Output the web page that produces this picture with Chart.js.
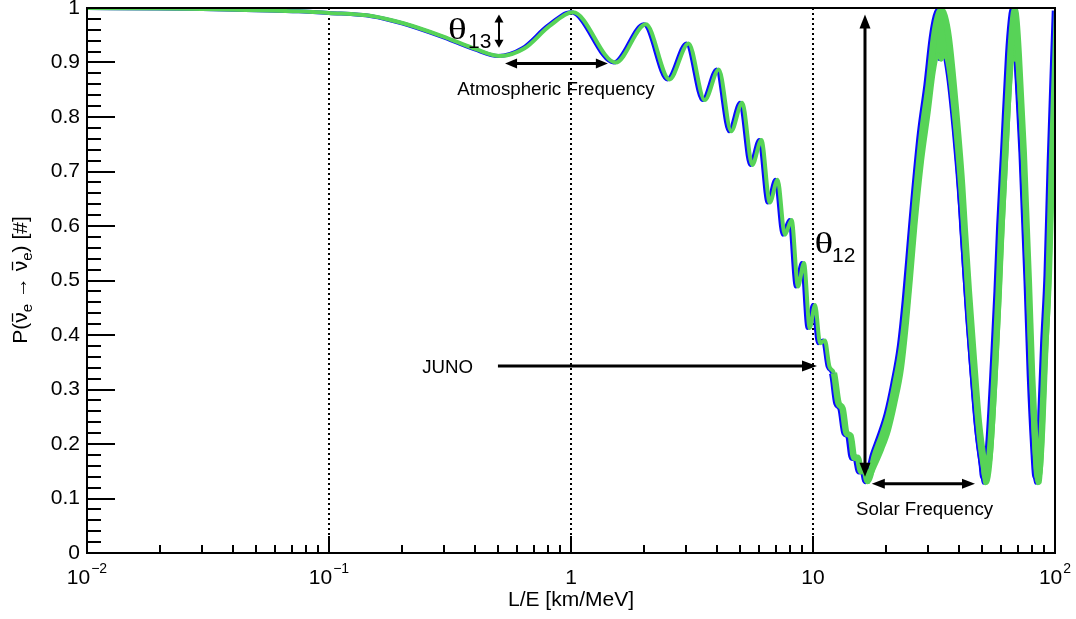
<!DOCTYPE html>
<html>
<head>
<meta charset="utf-8">
<script src="https://cdn.jsdelivr.net/npm/chart.js@4/dist/chart.umd.min.js"></script>
<style>
  html, body { margin: 0; padding: 0; background: #fff; }
  canvas { display: block; }
</style>
</head>
<body>
<canvas id="graficoOsc" width="1076" height="619"></canvas>
<script>
// L/E (km/MeV), blue curve
const blueX = [0.01, 0.02, 0.03, 0.05, 0.075, 0.1, 0.15, 0.2, 0.29, 0.4, 0.5, 0.63, 0.8,
  1.0, 1.5, 2.0, 2.5, 3.0, 3.5, 4.0, 4.5, 5.0, 5.5, 6.0, 6.5, 7.0, 7.5, 8.0, 8.5, 9.0, 9.5, 10.0,
  10.5, 11.0, 11.5, 12.0, 12.5, 13.0, 13.5, 14.0, 14.5, 15.0, 15.5, 16.0, 16.5,
  17.7, 18.9, 20.2, 21.5, 22.9, 24.0, 25.2, 26.0, 27.7, 29.5, 31.0, 32.2, 33.2, 34.3, 35.7,
  38.0, 40.5, 41.5, 43.2, 45.3, 47.5, 49.8, 50.5, 51.5, 53.0, 55.6, 57.4, 58.9, 61.1, 64.1,
  65.7, 66.9, 68.0, 69.4, 72.8, 76.4, 78.8, 81.4, 83.2, 84.8, 86.7, 89.5, 92.4, 95.3, 100];

// green curve sits a couple of pixels to the right
const greenX = [0.01, 0.02, 0.03, 0.05, 0.075, 0.1, 0.152, 0.203, 0.295, 0.407, 0.51, 0.643, 0.816,
  1.02, 1.53, 2.04, 2.55, 3.06, 3.57, 4.08, 4.59, 5.1, 5.61, 6.12, 6.63, 7.14, 7.65, 8.16, 8.67, 9.18, 9.69, 10.2,
  10.7, 11.2, 11.7, 12.2, 12.75, 13.25, 13.75, 14.3, 14.8, 15.3, 15.8, 16.3, 16.8,
  18.05, 19.3, 20.6, 21.9, 23.35, 24.5, 25.7, 26.5, 28.25, 30.1, 31.6, 32.85, 33.85, 35.0, 36.4,
  38.75, 41.3, 42.35, 44.05, 46.2, 48.45, 50.8, 51.5, 52.5, 54.05, 56.7, 58.55, 60.1, 62.3, 65.4,
  67.0, 68.25, 69.35, 70.8, 74.25, 77.9, 80.4, 83.0, 84.85, 86.5, 88.45, 91.3, 94.25, 97.2, 102];

// survival probability (upper edge of the curve)
const probP = [1.0, 0.999, 0.998, 0.996, 0.994, 0.991, 0.985, 0.972, 0.948, 0.924, 0.912, 0.926, 0.967,
  0.992, 0.900, 0.970, 0.869, 0.935, 0.831, 0.887, 0.774, 0.826, 0.712, 0.758, 0.643, 0.685, 0.584, 0.611, 0.489, 0.532, 0.413, 0.455,
  0.385, 0.39, 0.342, 0.33, 0.275, 0.265, 0.22, 0.215, 0.175, 0.175, 0.15, 0.155, 0.132,
  0.18, 0.215, 0.255, 0.31, 0.38, 0.465, 0.575, 0.645, 0.77, 0.86, 0.945, 0.985, 0.997, 0.985, 0.945,
  0.825, 0.675, 0.595, 0.48, 0.355, 0.24, 0.165, 0.14, 0.15, 0.195, 0.355, 0.48, 0.60, 0.735, 0.915,
  0.975, 0.997, 0.975, 0.915, 0.735, 0.50, 0.325, 0.195, 0.14, 0.155, 0.23, 0.385, 0.51, 0.72, 0.995];

// lower edge of the fast-oscillation band (from the 16.5 km/MeV minimum on)
const BAND_START = 44;
const bandLow = [0.128, 0.16, 0.19, 0.225, 0.275, 0.34, 0.425, 0.53, 0.60, 0.72, 0.81, 0.885, 0.915, 0.905, 0.915,
  0.885, 0.775, 0.625, 0.55, 0.43, 0.315, 0.21, 0.145, 0.128, 0.13, 0.165, 0.31, 0.435, 0.555, 0.69, 0.865,
  0.91, 0.905, 0.91, 0.865, 0.69, 0.45, 0.285, 0.165, 0.128, 0.13, 0.195, 0.345, 0.465, 0.67, 0.93];

const yTickLabels = ["0", "0.1", "0.2", "0.3", "0.4", "0.5", "0.6", "0.7", "0.8", "0.9", "1"];
const xTickValues = [0.01, 0.1, 1, 10, 100];
const xTickBase = ["10", "10", "1", "10", "10"];
const xTickExp = ["\u22122", "\u22121", "", "", "2"];

const FONT = "'Liberation Sans', Arial, Helvetica, sans-serif";
const THETA_FONT = "30px 'Liberation Serif', 'DejaVu Serif', serif";
const BLUE = "#0a0aff";
const GREEN = "#57d357";

const toPts = (xs, ys) => xs.map((x, i) => ({ x, y: ys[i] }));

function arrow(ctx, x1, y1, x2, y2, opts) {
  const { w, head, half, start, end } = opts;
  const ang = Math.atan2(y2 - y1, x2 - x1);
  const ux = Math.cos(ang), uy = Math.sin(ang);
  const sx = start ? x1 + ux * head * 0.8 : x1, sy = start ? y1 + uy * head * 0.8 : y1;
  const ex = end ? x2 - ux * head * 0.8 : x2, ey = end ? y2 - uy * head * 0.8 : y2;
  ctx.lineWidth = w;
  ctx.beginPath(); ctx.moveTo(sx, sy); ctx.lineTo(ex, ey); ctx.stroke();
  const tri = (tx, ty, dx, dy) => {
    ctx.beginPath();
    ctx.moveTo(tx, ty);
    ctx.lineTo(tx - dx * head - dy * half, ty - dy * head + dx * half);
    ctx.lineTo(tx - dx * head + dy * half, ty - dy * head - dx * half);
    ctx.closePath(); ctx.fill();
  };
  if (end) tri(x2, y2, ux, uy);
  if (start) tri(x1, y1, -ux, -uy);
}

// wide greek theta like the ROOT symbol font
function theta(ctx, px, py) {
  ctx.save();
  ctx.translate(px, py);
  ctx.scale(1.3, 1);
  ctx.font = THETA_FONT;
  ctx.textAlign = "left";
  ctx.fillText("\u03b8", 0, 0);
  ctx.restore();
}

const decorations = {
  id: "decorations",
  beforeDatasetsDraw(chart) {
    const { ctx, chartArea: a, scales: { x } } = chart;
    ctx.save();
    ctx.strokeStyle = "#000";
    ctx.lineWidth = 2;
    ctx.setLineDash([2, 3]);
    [0.1, 1, 10].forEach((v) => {
      const px = Math.round(x.getPixelForValue(v));
      ctx.beginPath(); ctx.moveTo(px, a.top); ctx.lineTo(px, a.bottom); ctx.stroke();
    });
    ctx.restore();
  },
  afterDatasetsDraw(chart) {
    const { ctx, chartArea: a, scales: { x, y } } = chart;
    const X = (v) => x.getPixelForValue(v);
    const Y = (v) => y.getPixelForValue(v);
    ctx.save();
    ctx.strokeStyle = "#000";
    ctx.fillStyle = "#000";
    ctx.lineWidth = 2;

    // frame
    ctx.strokeRect(a.left, a.top, a.right - a.left, a.bottom - a.top);

    // y ticks (inside)
    for (let k = 1; k < 50; k++) {
      const py = Math.round(Y(k / 50));
      const len = k % 5 === 0 ? 28 : 14;
      ctx.beginPath(); ctx.moveTo(a.left, py); ctx.lineTo(a.left + len, py); ctx.stroke();
    }
    // x ticks (inside, log)
    for (let d = -2; d <= 1; d++) {
      for (let m = 1; m <= 9; m++) {
        const v = m * Math.pow(10, d);
        if (v <= 0.01) continue;
        const px = Math.round(X(v));
        const len = m === 1 ? 17 : 8;
        ctx.beginPath(); ctx.moveTo(px, a.bottom); ctx.lineTo(px, a.bottom - len); ctx.stroke();
      }
    }

    // x tick labels with exponents
    ctx.textBaseline = "alphabetic";
    ctx.textAlign = "left";
    xTickValues.forEach((v, i) => {
      ctx.font = "21px " + FONT;
      const bw = ctx.measureText(xTickBase[i]).width;
      ctx.font = "14px " + FONT;
      const ew = xTickExp[i] ? ctx.measureText(xTickExp[i]).width + 1 : 0;
      const x0 = X(v) - (bw + ew) / 2;
      ctx.font = "21px " + FONT;
      ctx.fillText(xTickBase[i], x0, 584);
      if (xTickExp[i]) {
        ctx.font = "14px " + FONT;
        ctx.fillText(xTickExp[i], x0 + bw + 1, 573);
      }
    });

    // y title: P(nu-bar_e -> nu-bar_e) [#]
    ctx.save();
    ctx.translate(27, 280);
    ctx.rotate(-Math.PI / 2);
    const big = "21px " + FONT, small = "15px " + FONT;
    const parts = [["P(", big, 0, false], ["\u03bd", big, 0, true], ["e", small, 5, false],
      [" \u2192 ", big, 0, false], ["\u03bd", big, 0, true], ["e", small, 5, false], [") [#]", big, 0, false]];
    let total = 0;
    parts.forEach((p) => { ctx.font = p[1]; p.push(ctx.measureText(p[0]).width); total += p[4]; });
    let cx = -total / 2;
    parts.forEach((p) => {
      ctx.font = p[1];
      ctx.fillText(p[0], cx, p[2]);
      if (p[3]) {
        ctx.lineWidth = 1.3;
        ctx.beginPath(); ctx.moveTo(cx + 1, -14.5); ctx.lineTo(cx + p[4] - 1, -14.5); ctx.stroke();
      }
      cx += p[4];
    });
    ctx.restore();

    // annotations
    theta(ctx, X(0.31), Y(0.944));
    ctx.font = "21px " + FONT;
    ctx.fillText("13", X(0.3754), Y(0.9275));
    arrow(ctx, X(0.504), Y(0.988), X(0.504), Y(0.927), { w: 2, head: 8, half: 4.5, start: true, end: true });

    arrow(ctx, X(0.534), Y(0.898), X(1.42), Y(0.898), { w: 3, head: 12, half: 5, start: true, end: true });
    ctx.font = "18.7px " + FONT;
    ctx.textAlign = "center";
    ctx.fillText("Atmospheric Frequency", X(0.867), Y(0.841));

    ctx.textAlign = "left";
    theta(ctx, X(10.15), Y(0.551));
    ctx.font = "21px " + FONT;
    ctx.fillText("12", X(11.98), Y(0.534));
    arrow(ctx, X(16.4), Y(0.988), X(16.4), Y(0.14), { w: 3, head: 14, half: 5.5, start: true, end: true });

    arrow(ctx, X(0.499), Y(0.343), X(10.39), Y(0.343), { w: 3, head: 15, half: 5.5, start: false, end: true });
    ctx.font = "18.7px " + FONT;
    ctx.textAlign = "right";
    ctx.fillText("JUNO", X(0.394), Y(0.3306));

    arrow(ctx, X(17.5), Y(0.127), X(46.7), Y(0.127), { w: 3, head: 13, half: 5, start: true, end: true });
    ctx.textAlign = "center";
    ctx.fillText("Solar Frequency", X(28.9), Y(0.0698));

    ctx.restore();
  },
};

// thicker stroke where the fast oscillation smears into a band
const widthBySegment = (ctx) => (ctx.p0.parsed.x >= 12 ? 6.5 : 4);

const lineDefaults = { pointRadius: 0, cubicInterpolationMode: "monotone" };

new Chart(document.getElementById("graficoOsc").getContext("2d"), {
  type: "line",
  data: {
    datasets: [
      { ...lineDefaults, label: "green", data: toPts(greenX, probP), borderColor: GREEN, borderWidth: 4, segment: { borderWidth: widthBySegment }, fill: false, order: 0 },
      { ...lineDefaults, label: "green band", data: toPts(greenX.slice(BAND_START), bandLow), borderColor: GREEN, backgroundColor: GREEN, borderWidth: 4, fill: "-1", order: 1 },
      { ...lineDefaults, label: "blue", data: toPts(blueX, probP), borderColor: BLUE, borderWidth: 4, segment: { borderWidth: widthBySegment }, fill: false, order: 2 },
      { ...lineDefaults, label: "blue band", data: toPts(blueX.slice(BAND_START), bandLow), borderColor: BLUE, backgroundColor: BLUE, borderWidth: 3, fill: "-1", order: 3 },
    ],
  },
  options: {
    responsive: false,
    animation: false,
    layout: { padding: { left: 0, top: 8, right: 21, bottom: 0 } },
    plugins: { legend: { display: false }, tooltip: { enabled: false } },
    scales: {
      x: {
        type: "logarithmic",
        min: 0.01,
        max: 100,
        grid: { display: false },
        border: { display: false },
        ticks: { display: false },
        title: { display: true, text: "L/E [km/MeV]", color: "#000", font: { family: FONT, size: 21 }, padding: { top: 0, bottom: 6 } },
        afterFit: (s) => { s.height = 66; },
      },
      y: {
        min: 0,
        max: 1,
        grid: { display: false, drawTicks: false },
        border: { display: false },
        ticks: {
          stepSize: 0.1,
          autoSkip: false,
          padding: 7,
          color: "#000",
          font: { family: FONT, size: 21 },
          callback: (v, i) => yTickLabels[i],
        },
        afterFit: (s) => { s.width = 87; s.paddingTop = 0; s.paddingBottom = 0; },
      },
    },
  },
  plugins: [decorations],
});
</script>
</body>
</html>
